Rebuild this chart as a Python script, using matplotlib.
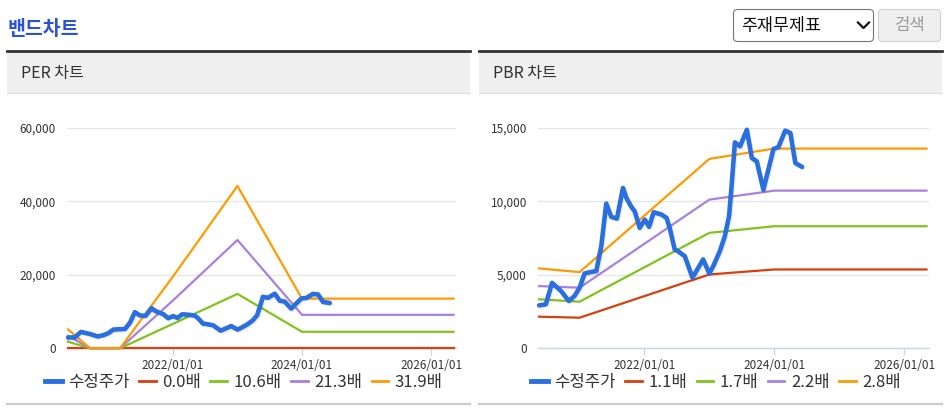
import matplotlib
matplotlib.use('Agg')
import pandas as pd
import matplotlib.pyplot as plt
import matplotlib.dates as mdates
import matplotlib.patheffects as pe
from matplotlib.patches import Rectangle, FancyBboxPatch
from matplotlib.lines import Line2D
from matplotlib.ticker import FuncFormatter

plt.rcParams['font.family'] = ['Noto Sans CJK KR', 'DejaVu Sans']

# --- data ---
price_dates = ['2020-05-18', '2020-06-25', '2020-07-30', '2020-09-19', '2020-11-01', '2020-12-03',
               '2021-01-01', '2021-01-29', '2021-03-01', '2021-04-05', '2021-05-03', '2021-05-31',
               '2021-06-28', '2021-07-30', '2021-09-02', '2021-09-21', '2021-10-19', '2021-11-07',
               '2021-12-05', '2022-01-03', '2022-01-27', '2022-02-22', '2022-04-06', '2022-05-05',
               '2022-05-23', '2022-06-20', '2022-07-09', '2022-08-16', '2022-09-28', '2022-11-27',
               '2023-01-01', '2023-01-23', '2023-03-01', '2023-03-29', '2023-04-22', '2023-05-06',
               '2023-05-25', '2023-06-23', '2023-07-31', '2023-08-28', '2023-09-25', '2023-11-01',
               '2023-11-29', '2023-12-28', '2024-01-25', '2024-03-03', '2024-04-01', '2024-04-29',
               '2024-06-06']
price = [2920, 2990, 4450, 3890, 3220, 3550,
         4120, 5090, 5180, 5250, 6950, 9840,
         8940, 8820, 10900, 10230, 9620, 9320,
         8190, 8750, 8260, 9250, 9100, 8870,
         8190, 6720, 6600, 6260, 4800, 6040,
         5090, 5590, 6600, 7620, 8980, 11010,
         14000, 13730, 14860, 12940, 12710, 10790,
         12150, 13550, 13690, 14800, 14640, 12600,
         12330]

per_dates = ['2020-05-18', '2020-09-20', '2021-03-08', '2022-01-01', '2023-01-01', '2024-01-01', '2026-05-07']
per_labels = ['0.0배', '10.6배', '21.3배', '31.9배']
per_00 = [0, 0, 0, 0, 0, 0, 0]
per_106 = [1780, 0, 0, 6650, 14800, 4490, 4490]
per_213 = [3400, 0, 0, 13000, 29460, 9100, 9100]
per_319 = [5135, 0, 0, 19500, 44150, 13510, 13510]

pbr_dates = ['2020-05-18', '2021-01-01', '2022-01-01', '2023-01-01', '2024-01-01', '2026-05-07']
pbr_labels = ['1.1배', '1.7배', '2.2배', '2.8배']
pbr_11 = [2150, 2080, 3550, 5020, 5360, 5360]
pbr_17 = [3330, 3170, 5510, 7850, 8300, 8300]
pbr_22 = [4230, 4120, 7110, 10110, 10720, 10720]
pbr_28 = [5430, 5180, 9030, 12880, 13580, 13580]

x_ticks = ['2022-01-01', '2024-01-01', '2026-01-01']
band_colors = ['#d6400f', '#80c31c', '#a880df', '#ff9b00']
price_color = '#2a6fe0'

W, H = 948, 415
fig = plt.figure(figsize=(W / 100, H / 100), dpi=100)
T = fig.dpi_scale_trans


def ix(px):
    return px / 100


def iy(py):
    return (H - py) / 100


# page title and controls
fig.text(ix(8), iy(29), '밴드차트', transform=T, fontsize=14, fontweight='bold',
         color='#2b52d9', va='center', ha='left')
fig.add_artist(FancyBboxPatch((ix(733.5), iy(41.5)), ix(140), 0.32, transform=T,
                              boxstyle='round,pad=0,rounding_size=0.04',
                              fc='white', ec='#767676', lw=0.8))
fig.text(ix(741), iy(25.5), '주재무제표', transform=T, fontsize=12.5, color='#111',
         va='center', ha='left')
fig.add_artist(Line2D([ix(858), ix(863.5), ix(869)], [iy(22.5), iy(28), iy(22.5)],
                      transform=T, color='#111', lw=1.6))
fig.add_artist(FancyBboxPatch((ix(878.5), iy(41.5)), ix(62), 0.32, transform=T,
                              boxstyle='round,pad=0,rounding_size=0.04',
                              fc='#efefef', ec='#cfcfcf', lw=0.8))
fig.text(ix(909.5), iy(25.5), '검색', transform=T, fontsize=12, color='#9b9b9b',
         va='center', ha='center')

panels = [
    dict(x0=7, x1=470, title='PER 차트', ax_l=67, ax_r=456, ymax=60000, ystep=20000,
         dates=per_dates, bands=[per_00, per_106, per_213, per_319], labels=per_labels,
         leg_x=244),
    dict(x0=479, x1=942, title='PBR 차트', ax_l=538, ax_r=929, ymax=15000, ystep=5000,
         dates=pbr_dates, bands=[pbr_11, pbr_17, pbr_22, pbr_28], labels=pbr_labels,
         leg_x=716),
]

pdates = pd.to_datetime(price_dates)

for p in panels:
    x0, x1 = p['x0'], p['x1']
    # header
    fig.add_artist(Rectangle((ix(x0), iy(92.5)), ix(x1 - x0), 0.41, transform=T,
                             fc='#efefef', ec='none'))
    fig.add_artist(Line2D([ix(x0), ix(x1)], [iy(51), iy(51)], transform=T, color='#333333', lw=2))
    fig.add_artist(Line2D([ix(x0), ix(x1)], [iy(92.5), iy(92.5)], transform=T, color='#dddddd', lw=0.8))
    fig.add_artist(Line2D([ix(x0), ix(x1)], [iy(403.5), iy(403.5)], transform=T, color='#cccccc', lw=1.6))
    fig.text(ix(x0 + 14), iy(73), p['title'], transform=T, fontsize=11.5, color='#333333',
             va='center', ha='left')

    ax = fig.add_axes([p['ax_l'] / W, 1 - 348.3 / H, (p['ax_r'] - p['ax_l']) / W, (348.3 - 127.7) / H])
    bdates = pd.to_datetime(p['dates'])
    for vals, col in zip(p['bands'], band_colors):
        ax.plot(bdates, vals, color=col, lw=1.6, zorder=3, clip_on=False)
    ax.plot(pdates, price, color=price_color, lw=3.3, zorder=5, clip_on=False,
            solid_joinstyle='round', solid_capstyle='round',
            path_effects=[pe.SimpleLineShadow(offset=(0.8, -1), alpha=0.08), pe.Normal()])

    ax.set_ylim(0, p['ymax'])
    ax.set_yticks(range(0, p['ymax'] + 1, p['ystep']))
    ax.yaxis.set_major_formatter(FuncFormatter(lambda v, _: f'{v:,.0f}'))
    ax.set_xlim(pd.Timestamp('2020-05-12'), pd.Timestamp('2026-05-21'))
    ax.set_xticks(pd.to_datetime(x_ticks))
    ax.xaxis.set_major_formatter(mdates.DateFormatter('%Y/%m/%d'))

    for s in ['top', 'right', 'left']:
        ax.spines[s].set_visible(False)
    ax.spines['bottom'].set_color('#ccd6eb')
    ax.spines['bottom'].set_linewidth(1)
    ax.grid(axis='y', color='#e6e6e6', lw=1)
    ax.set_axisbelow(True)
    ax.tick_params(axis='y', length=0, pad=8, labelsize=8.5, labelcolor='#333333')
    ax.tick_params(axis='x', length=5, width=1, color='#ccd6eb', pad=3, labelsize=8.5,
                   labelcolor='#333333')

    leg_handles = [Line2D([0], [0], color=price_color, lw=3.5)] + \
                  [Line2D([0], [0], color=c, lw=2) for c in band_colors]
    fig.legend(leg_handles, ['수정주가'] + p['labels'], loc='center',
               bbox_to_anchor=(p['leg_x'] / W, 1 - 382 / H), ncol=5, frameon=False,
               fontsize=12, handlelength=1.0, handletextpad=0.4, columnspacing=0.55,
               labelcolor='#333333', borderaxespad=0, borderpad=0)

fig.savefig('out.png', dpi=100)
